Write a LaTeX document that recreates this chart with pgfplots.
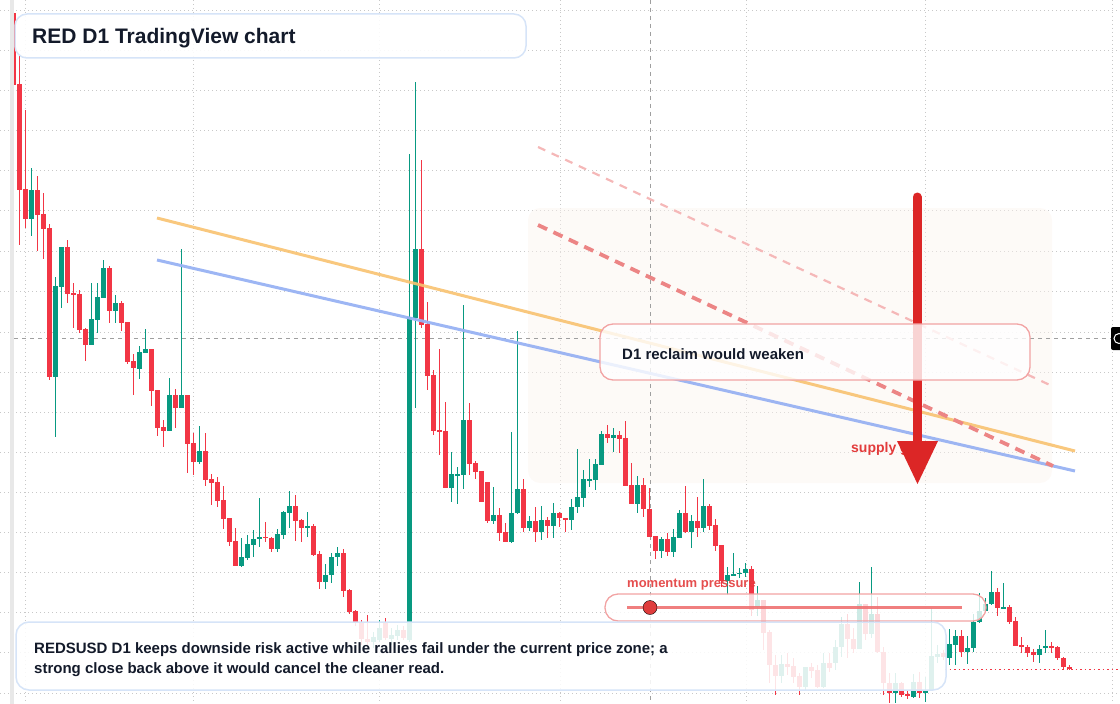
\documentclass[border=0pt]{standalone}
\usepackage{pgfplots}
\pgfplotsset{compat=1.18}
\usepackage{pgfplotstable}
\usepackage{fontspec}
\setmainfont{Liberation Sans}
\definecolor{tvgreen}{HTML}{089981}
\definecolor{tvred}{HTML}{F23645}
\definecolor{navy}{HTML}{131A2A}
\definecolor{boxblue}{HTML}{D6E4F8}
\definecolor{boxred}{HTML}{F2A3A3}
\definecolor{lblred}{HTML}{E23B3B}
\definecolor{arrowred}{HTML}{DC2626}
\definecolor{lorange}{HTML}{F8C270}
\definecolor{lblue}{HTML}{98B2F3}
\definecolor{dashA}{HTML}{EC8585}
\definecolor{dashB}{HTML}{F5B8B8}
\definecolor{zonefill}{HTML}{FBF3EE}
\definecolor{gridc}{HTML}{C8C8C8}

% candles: x, open, high, low, close (pixel-scale price, y grows downward)
\pgfplotstableread{
x o h l c
13.5 13 5 85 85
19.5 84 55 245 190
25.5 189 110 228 219
37.5 190 176 251 215
43.5 214 193 259 229
49.5 228 224 380 377
67.5 247 240 303 294
73.5 293 283 328 295
79.5 294 290 333 330
85.5 329 328 361 345
109.5 268 266 323 311
121.5 303 301 331 323
127.5 322 322 364 362
133.5 361 354 395 368
151.5 349 349 406 391
157.5 390 390 436 428
163.5 427 420 447 431
175.5 395 389 428 408
187.5 395 395 473 444
193.5 443 433 475 462
205.5 451 433 486 480
211.5 479 474 505 483
217.5 482 477 507 501
223.5 500 486 529 519
229.5 518 518 546 542
235.5 541 528 566 566
265.5 537 522 542 538
271.5 538 537 552 549
295.5 506 495 541 521
301.5 520 519 542 528
313.5 526 524 556 555
319.5 554 551 589 582
343.5 553 549 597 591
349.5 590 589 614 612
355.5 611 610 626 622
361.5 622 620 645 639
367.5 639 615 645 642
385.5 622 618 640 638
403.5 630 626 640 638
421.5 249 160 328 325
427.5 324 302 390 376
433.5 375 370 435 431
439.5 430 349 455 432
445.5 431 402 488 488
469.5 420 403 475 464
475.5 463 461 479 472
481.5 471 471 502 502
487.5 482 482 523 521
499.5 515 508 541 533
505.5 532 523 542 542
523.5 489 479 532 528
535.5 521 507 542 532
547.5 520 517 538 526
559.5 513 512 527 518
565.5 518 518 532 520
607.5 434 425 443 438
619.5 435 431 453 439
625.5 438 421 486 486
631.5 485 463 504 504
643.5 485 478 517 509
649.5 509 488 537 537
655.5 536 536 559 551
667.5 539 533 556 552
685.5 513 486 533 532
697.5 521 497 537 528
709.5 506 504 530 526
715.5 525 519 551 546
721.5 545 545 587 581
751.5 569 566 616 610
763.5 600 600 650 633
769.5 632 630 683 665
775.5 665 655 695 676
787.5 664 653 675 667
793.5 666 658 683 677
799.5 676 673 695 687
811.5 667 663 678 671
817.5 670 665 688 687
829.5 663 653 672 668
847.5 624 614 658 639
853.5 639 628 653 649
865.5 604 604 640 634
877.5 614 597 653 652
883.5 652 647 695 683
889.5 683 673 703 693
901.5 683 682 697 695
907.5 694 690 699 696
919.5 682 672 698 693
943.5 653 650 660 657
961.5 636 630 657 652
997.5 592 588 616 608
1009.5 607 605 624 622
1015.5 621 617 646 646
1021.5 645 637 653 647
1027.5 647 645 657 653
1033.5 652 649 662 655
1051.5 646 642 653 647
1057.5 647 646 660 658
1063.5 658 657 669 667
1069.5 667 665 670 669
}\redtbl

\pgfplotstableread{
x o h l c
31.5 219 168 236 190
55.5 377 277 437 286
61.5 287 247 308 247
91.5 345 283 345 319
97.5 320 283 333 297
103.5 298 260 298 268
115.5 311 295 323 303
139.5 369 346 379 352
145.5 353 329 353 349
169.5 431 378 431 395
181.5 408 249 408 395
199.5 462 426 464 451
241.5 566 538 567 557
247.5 558 535 560 544
253.5 545 530 557 539
259.5 539 498 547 537
277.5 549 529 552 534
283.5 535 511 539 512
289.5 513 491 528 506
307.5 528 512 537 526
325.5 582 564 589 575
331.5 575 553 583 557
337.5 557 547 566 553
373.5 642 632 648 637
379.5 640 620 642 628
391.5 639 628 645 635
397.5 636 625 640 630
409.5 640 154 642 317
415.5 318 82 408 249
451.5 488 452 502 474
457.5 475 467 504 474
463.5 475 305 489 420
493.5 521 487 524 515
511.5 542 432 543 513
517.5 513 331 514 489
529.5 528 516 531 521
541.5 532 506 540 520
553.5 526 503 538 513
571.5 520 499 530 507
577.5 507 449 513 497
583.5 498 470 507 479
589.5 480 459 487 479
595.5 480 459 490 464
601.5 465 431 465 434
613.5 438 428 452 435
637.5 504 476 513 485
661.5 551 537 558 539
673.5 552 529 557 537
679.5 538 510 538 513
691.5 532 515 548 521
703.5 528 479 532 506
727.5 581 567 595 575
733.5 576 553 576 574
739.5 574 568 578 573
745.5 573 563 577 569
757.5 607 586 616 600
781.5 676 655 683 664
805.5 687 667 690 667
823.5 687 653 688 663
835.5 663 640 670 647
841.5 647 617 657 624
859.5 649 582 649 604
871.5 634 567 638 614
895.5 693 673 703 683
913.5 697 674 698 682
925.5 693 677 702 690
931.5 690 608 690 656
937.5 657 645 663 654
949.5 658 629 665 644
955.5 645 630 665 636
967.5 652 636 664 648
973.5 648 614 652 622
979.5 622 593 623 611
985.5 611 598 611 604
991.5 604 571 605 592
1003.5 608 583 609 607
1039.5 655 645 663 649
1045.5 648 630 653 646
}\greentbl

\pgfplotsset{
  wick/.style={draw=none, mark=none, forget plot,
    error bars/.cd, y dir=both, y explicit, error mark=none,
    error bar style={line width=1bp, draw=#1}},
  body/.style={draw=none, mark=none, forget plot,
    error bars/.cd, y dir=both, y explicit, error mark=none,
    error bar style={line width=4.6bp, draw=#1}},
}

\begin{document}
\begin{tikzpicture}
\begin{axis}[
  width=1120bp, height=704bp, scale only axis,
  xmin=0, xmax=1120, ymin=0, ymax=704, y dir=reverse,
  axis line style={draw=none}, tick style={draw=none},
  xtick={25,193,379,560,746,925,1112},
  ytick={10,50,90,130,170,210,251,291,332,372,412,452,492,532,572,612,652,693},
  xticklabels={}, yticklabels={},
  grid=major, grid style={gridc, line width=0.8bp, dash pattern=on 1bp off 3bp},
  clip=true,
]
% shaded zone
\fill[zonefill, fill opacity=0.45, rounded corners=12bp] (528,208) rectangle (1052,483);
% crosshair
\draw[gray!75, line width=0.8bp, dash pattern=on 4bp off 4bp] (14,338) -- (1112,338);
\draw[gray!75, line width=0.8bp, dash pattern=on 4bp off 4bp] (650,0) -- (650,704);

% candles
\addplot[wick=tvred] table[x=x, y expr={(\thisrow{h}+\thisrow{l})/2}, y error expr={(\thisrow{l}-\thisrow{h})/2}] {\redtbl};
\addplot[body=tvred] table[x=x, y expr={(\thisrow{o}+\thisrow{c})/2}, y error expr={max(abs(\thisrow{c}-\thisrow{o})/2,0.8)}] {\redtbl};
\addplot[wick=tvgreen] table[x=x, y expr={(\thisrow{h}+\thisrow{l})/2}, y error expr={(\thisrow{l}-\thisrow{h})/2}] {\greentbl};
\addplot[body=tvgreen] table[x=x, y expr={(\thisrow{o}+\thisrow{c})/2}, y error expr={max(abs(\thisrow{c}-\thisrow{o})/2,0.8)}] {\greentbl};

% left strip
\fill[black!9] (10,0) rectangle (14,704);

% last price dotted line
\addplot[tvred, line width=0.9bp, dash pattern=on 1.5bp off 3bp, forget plot] coordinates {(945,669) (1120,669)};

% trend lines
\addplot[lorange, line width=3bp, opacity=0.9] coordinates {(157,218) (1075,451)};
\addplot[lblue, line width=3bp, opacity=0.95] coordinates {(157,260) (1075,471)};
\addplot[dashB, line width=2.2bp, dash pattern=on 8bp off 7bp] coordinates {(538,147) (1052,386)};
\addplot[dashA, line width=3.8bp, dash pattern=on 10bp off 7bp] coordinates {(538,225) (1053,466)};

% supply gate label
\node[anchor=base west, font=\bfseries\fontsize{14bp}{16bp}\selectfont, text=lblred, inner sep=0] at (851,452) {supply gate};

% arrow
\addplot[arrowred, line width=9bp, line cap=round] coordinates {(917,197) (917,445)};
\addplot[fill=arrowred, draw=none] coordinates {(897,441) (938,441) (917.5,484)} -- cycle;

% D1 reclaim box
\draw[boxred, line width=1.3bp, fill=white, fill opacity=0.8, rounded corners=13bp] (600,324) rectangle (1030,380);
\node[anchor=base west, font=\bfseries\fontsize{15bp}{18bp}\selectfont, text=navy, inner sep=0] at (622,359) {D1 reclaim would weaken};

% momentum pressure
\node[anchor=base west, font=\bfseries\fontsize{13bp}{15bp}\selectfont, text=lblred, inner sep=0, opacity=0.9] at (627,587) {momentum pressure};
\draw[boxred, line width=1.3bp, fill=white, fill opacity=0.8, rounded corners=13bp] (605,594) rectangle (986,621);
\addplot[color=dashA!85!red, line width=3.5bp, opacity=0.9] coordinates {(627,607.5) (962,607.5)};
\addplot[only marks, mark=*, mark size=7bp, mark options={fill=arrowred!90, draw=none}] coordinates {(650,607.5)};

% right edge label
\fill[black, rounded corners=2bp] (1111,327) rectangle (1130,350);
\draw[white, line width=1bp] (1119,338.5) circle[radius=5bp];

% bottom box
\draw[boxblue, line width=1.5bp, fill=white, fill opacity=0.87, rounded corners=13bp] (16,622) rectangle (946,690);
\node[anchor=base west, font=\bfseries\fontsize{15bp}{18bp}\selectfont, text=navy, inner sep=0] at (34,653) {REDSUSD D1 keeps downside risk active while rallies fail under the current price zone; a};
\node[anchor=base west, font=\bfseries\fontsize{15bp}{18bp}\selectfont, text=navy, inner sep=0] at (34,673) {strong close back above it would cancel the cleaner read.};

% title box
\draw[boxblue, line width=1.5bp, fill=white, fill opacity=0.9, rounded corners=12bp] (15,14) rectangle (526,58);
\node[anchor=base west, font=\bfseries\fontsize{21bp}{25bp}\selectfont, text=navy, inner sep=0] at (32,43.5) {RED D1 TradingView chart};
\end{axis}
\pgfresetboundingbox
\path[use as bounding box] (current axis.south west) rectangle (current axis.north east);
\end{tikzpicture}
\end{document}
